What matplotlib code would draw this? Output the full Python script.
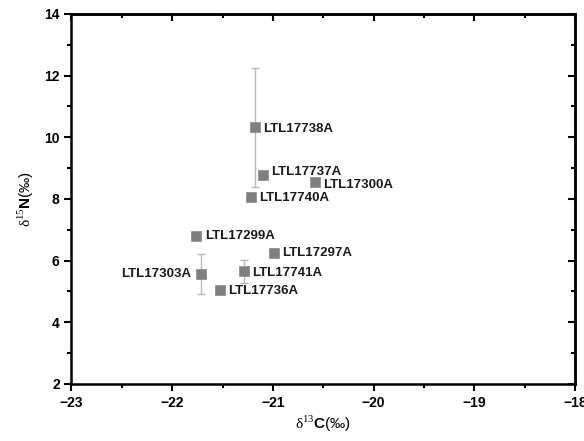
import numpy as np
import matplotlib.pyplot as plt

# données isotopiques
samples = ["LTL17738A", "LTL17737A", "LTL17300A", "LTL17740A", "LTL17299A",
           "LTL17297A", "LTL17303A", "LTL17741A", "LTL17736A"]
d13c = [-21.18, -21.10, -20.58, -21.22, -21.76, -20.99, -21.71, -21.29, -21.53]
d15n = [10.33, 8.77, 8.54, 8.07, 6.79, 6.26, 5.58, 5.65, 5.06]
d15n_err = [1.93, 0, 0, 0, 0, 0, 0.65, 0.36, 0]
label_side = ["r", "r", "r", "r", "r", "r", "l", "r", "r"]
label_dy = [-1, 2, -2, -1, 0, 0, 0, -1, -1]

plt.rcParams["font.family"] = ["Liberation Sans", "DejaVu Sans"]
plt.rcParams["mathtext.fontset"] = "custom"
plt.rcParams["mathtext.rm"] = "Liberation Serif"
plt.rcParams["mathtext.bf"] = "Liberation Sans:bold"

fig = plt.figure(figsize=(5.84, 4.41), dpi=100)
ax = fig.add_axes([0.1224, 0.1293, 0.8622, 0.8390])

err = np.array(d15n_err)
mask = err > 0
ax.errorbar(np.array(d13c)[mask], np.array(d15n)[mask], yerr=err[mask],
            fmt="none", ecolor="#b8b8b8", elinewidth=1.0, capsize=2.8, capthick=1.0, zorder=2)
ax.scatter(d13c, d15n, marker="s", s=52, color="#7f7f7f", edgecolors="#8a8a8a",
           linewidths=0.5, zorder=3)

for name, x, y, side, dy in zip(samples, d13c, d15n, label_side, label_dy):
    if side == "r":
        ax.annotate(name, (x, y), xytext=(6, dy), textcoords="offset points",
                    ha="left", va="center", fontsize=9.5, fontweight="bold", color="#1a1a1a")
    else:
        ax.annotate(name, (x, y), xytext=(-7, dy), textcoords="offset points",
                    ha="right", va="center", fontsize=9.5, fontweight="bold", color="#1a1a1a")

ax.set_xlim(-23, -18)
ax.set_ylim(2, 14)
ax.set_xticks(np.arange(-23, -17, 1))
ax.set_xticks(np.arange(-22.5, -18, 1), minor=True)
ax.set_yticks(np.arange(2, 15, 2))
ax.set_yticks(np.arange(3, 14, 2), minor=True)
ax.set_xticklabels(["\u221223", "\u221222", "\u221221", "\u221220", "\u221219", "\u221218"])

ax.tick_params(which="major", direction="out", length=5, width=1.5, labelsize=10)
ax.tick_params(which="minor", direction="out", length=3, width=1.5)
for lab in ax.get_xticklabels() + ax.get_yticklabels():
    lab.set_fontweight("bold")

# ticks intérieurs sur haut / droite
top = ax.secondary_xaxis("top")
top.set_xticks(np.arange(-23, -17, 1))
top.set_xticks(np.arange(-22.5, -18, 1), minor=True)
top.tick_params(which="major", direction="in", length=5, width=1.5, labeltop=False)
top.tick_params(which="minor", direction="in", length=3, width=1.5)
right = ax.secondary_yaxis("right")
right.set_yticks(np.arange(2, 15, 2))
right.set_yticks(np.arange(3, 14, 2), minor=True)
right.tick_params(which="major", direction="in", length=5, width=1.5, labelright=False)
right.tick_params(which="minor", direction="in", length=3, width=1.5)
top.spines["top"].set_linewidth(1.8)
right.spines["right"].set_linewidth(1.8)

for sp in ax.spines.values():
    sp.set_linewidth(1.8)

ax.set_xlabel(r"$\mathrm{\delta}^{13}\mathbf{C}$(‰)", fontsize=11, labelpad=3)
ax.set_ylabel(r"$\mathrm{\delta}^{15}\mathbf{N}$(‰)", fontsize=11, labelpad=6)

fig.savefig("out.png", dpi=100)
